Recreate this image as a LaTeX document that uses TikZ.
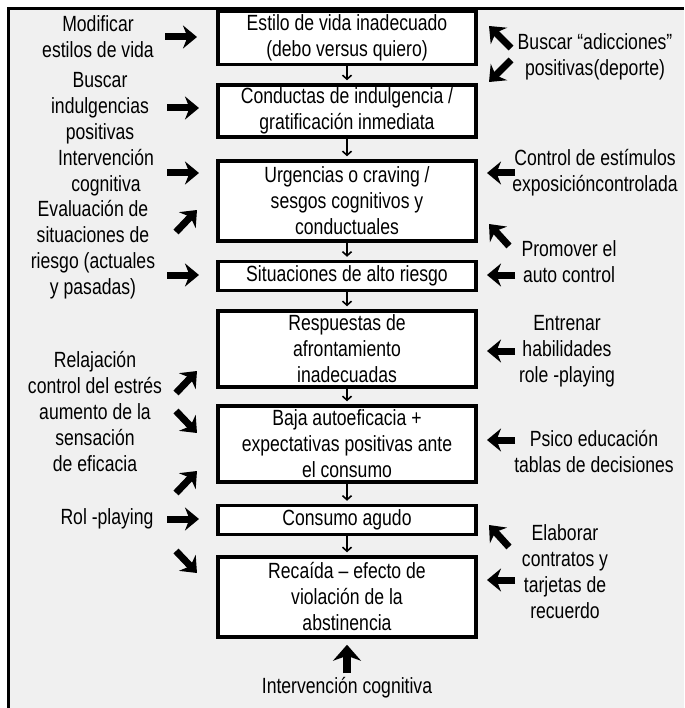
\documentclass[tikz,border=0pt]{standalone}
\usepackage{fontspec}
\setmainfont{Liberation Sans}[FakeStretch=0.8]
\usepackage{tikz}
\usetikzlibrary{arrows.meta,positioning}
\definecolor{panelgray}{HTML}{F0F0F0}
\tikzset{
  box/.style={draw, line width=3.5pt, fill=white, minimum width=258pt, align=center, inner sep=0pt},
  lbl/.style={align=center, inner sep=0pt},
  smallarr/.style={line width=1.6pt, -{Straight Barb[length=4pt,width=9pt]}, shorten >=3pt},
  bigarr/.style={line width=7pt, -{Stealth[length=14pt,width=23pt,inset=4.5pt]}},
}

\begin{document}
\begin{tikzpicture}[x=1pt,y=-1pt,font=\fontsize{22}{26}\selectfont]
\useasboundingbox (0,0) rectangle (684,708);
\fill[panelgray] (8,9) rectangle (684,708);
\draw[line width=3pt] (8,708) -- (8,9) -- (684,9);

\node[box, minimum height=53pt] (b1) at (347,38) {Estilo de vida inadecuado\\(debo versus quiero)};
\node[box, minimum height=52pt] (b2) at (347,111) {Conductas de indulgencia /\\gratificación inmediata};
\node[box, minimum height=80pt] (b3) at (347,201) {Urgencias o craving /\\sesgos cognitivos y\\conductuales};
\node[box, minimum height=29pt] (b4) at (347,276) {Situaciones de alto riesgo};
\node[box, minimum height=76pt] (b5) at (347,349) {Respuestas de\\afrontamiento\\inadecuadas};
\node[box, minimum height=76pt] (b6) at (347,444) {Baja autoeficacia +\\expectativas positivas ante\\el consumo};
\node[box, minimum height=29pt] (b7) at (347,520) {Consumo agudo};
\node[box, minimum height=80pt] (b8) at (347,597) {Recaída -- efecto de\\violación de la\\abstinencia};

\draw[smallarr] (b1) -- (b2);
\draw[smallarr] (b2) -- (b3);
\draw[smallarr] (b3) -- (b4);
\draw[smallarr] (b4) -- (b5);
\draw[smallarr] (b5) -- (b6);
\draw[smallarr] (b6) -- (b7);
\draw[smallarr] (b7) -- (b8);

\node[lbl] (modif) at (98,37) {Modificar\\estilos de vida};
\node[lbl] (indulg) at (100,108) {Buscar\\indulgencias\\positivas};
\node[lbl] (intcog) at (106,173) {Intervención\\cognitiva};
\node[lbl] (evalr) at (93,250) {Evaluación de\\situaciones de\\riesgo (actuales\\y pasadas)};
\node[lbl] (relaj) at (95,412) {Relajación\\control del estrés\\aumento de la\\sensación\\de eficacia};
\node[lbl] (rolpl) at (107,519) {Rol -playing};

\node[lbl] (adicc) at (595,57) {Buscar “adicciones”\\positivas(deporte)};
\node[lbl] (estim) at (595,173) {Control de estímulos\\exposicióncontrolada};
\node[lbl] (autoc) at (569,262) {Promover el\\auto control};
\node[lbl] (habil) at (567,351) {Entrenar\\habilidades\\role -playing};
\node[lbl] (psico) at (594,452) {Psico educación\\tablas de decisiones};
\node[lbl] (contr) at (565,572) {Elaborar\\contratos y\\tarjetas de\\recuerdo};

\node[lbl] (cogfin) at (347,688) {Intervención cognitiva};

\draw[bigarr] (165,37) -- (197,37);
\draw[bigarr] (167,108) -- (199,108);
\draw[bigarr] (167,173) -- (199,173);
\draw[bigarr] (176,232) -- (197,210);
\draw[bigarr] (167,275) -- (199,275);
\draw[bigarr] (176,393) -- (197,371);
\draw[bigarr] (176,411) -- (197,433);
\draw[bigarr] (176,493) -- (197,471);
\draw[bigarr] (167,519) -- (199,519);
\draw[bigarr] (176,551) -- (197,573);

\draw[bigarr] (511,48) -- (489,26);
\draw[bigarr] (511,60) -- (489,82);
\draw[bigarr] (515,173) -- (487,173);
\draw[bigarr] (509,246) -- (489,224);
\draw[bigarr] (515,275) -- (487,275);
\draw[bigarr] (515,351) -- (487,351);
\draw[bigarr] (515,440) -- (487,440);
\draw[bigarr] (509,547) -- (489,525);
\draw[bigarr] (515,580) -- (487,580);

\draw[line width=8pt, -{Stealth[length=16pt,width=28pt,inset=5pt]}, shorten <=4pt, shorten >=6pt] (cogfin) -- (b8);
\end{tikzpicture}
\end{document}
